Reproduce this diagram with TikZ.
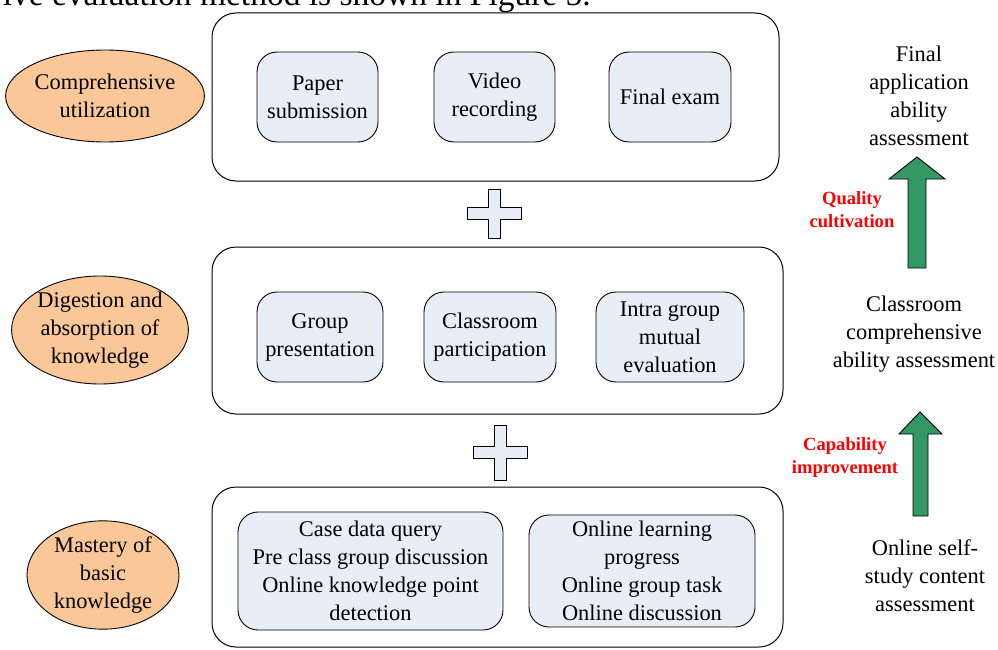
\documentclass[tikz,border=0pt]{standalone}
\usepackage{fontspec}
\setmainfont{Liberation Serif}
\usetikzlibrary{shapes.geometric,calc}
\definecolor{boxfill}{RGB}{232,238,248}
\definecolor{ellfill}{RGB}{250,200,152}
\definecolor{arrgreen}{RGB}{52,152,102}
\begin{document}
\begin{tikzpicture}[x=1pt,y=-1pt,
  txt/.style={font=\fontsize{22.4}{28}\selectfont, align=center, inner sep=0pt},
  bigbox/.style={draw, line width=1pt, rounded corners=24pt},
  inbox/.style={draw, line width=0.9pt, fill=boxfill, rounded corners=20pt, txt},
  ell/.style={draw, ellipse, line width=0.9pt, fill=ellfill, txt, inner sep=0pt},
  redlab/.style={font=\bfseries\fontsize{18.6}{23}\selectfont, text=red, align=center, inner sep=0pt},
  plusshape/.style={draw, line width=1pt, fill=boxfill},
  greenarr/.style={draw, line width=0.9pt, fill=arrgreen}
]
\useasboundingbox (0,0) rectangle (998,650);
\clip (0,0) rectangle (998,650);

% cut caption line at top
\node[font=\fontsize{33.5}{38}\selectfont, anchor=base east, inner sep=0pt] (cap) at (591,6) {ive evaluation method is shown in Figure 5.};

% big boxes
\node[bigbox, minimum width=567pt, minimum height=168pt] (top) at (495.5,97) {};
\node[bigbox, minimum width=571pt, minimum height=167pt] (mid) at (497.5,330.5) {};
\node[bigbox, minimum width=571pt, minimum height=160pt] (bot) at (497.5,567) {};

% top row
\node[inbox, minimum width=121pt, minimum height=90pt] (paper) at (317.5,97) {Paper\\submission};
\node[inbox, minimum width=121pt, minimum height=90pt] (video) at (494.5,97) {Video\\recording};
\node[inbox, minimum width=122pt, minimum height=90pt] (final) at (670,97) {Final exam};

% middle row
\node[inbox, minimum width=126pt, minimum height=90pt] (group) at (320,337) {Group\\presentation};
\node[inbox, minimum width=132pt, minimum height=90pt] (class) at (490,337) {Classroom\\participation};
\node[inbox, minimum width=148pt, minimum height=90pt] (intra) at (670,337) {Intra group\\mutual\\evaluation};

% bottom row
\node[inbox, minimum width=265pt, minimum height=118pt] (case) at (370.5,571) {Case data query\\Pre class group discussion\\Online knowledge point\\detection};
\node[inbox, minimum width=226pt, minimum height=112pt] (online) at (642,571) {Online learning\\progress\\Online group task\\Online discussion};

% ellipses
\node[ell, minimum width=190pt, minimum height=92pt] (e1) at (105,96) {Comprehensive\\utilization};
\node[ell, minimum width=166pt, minimum height=90pt] (e2) at (100,330) {Digestion and\\absorption of\\knowledge};
\node[ell, minimum width=152pt, minimum height=90pt] (e3) at (103,575) {Mastery of\\basic\\knowledge};

% plus signs
\coordinate (p1) at (494,213);
\draw[plusshape] ($(p1)+(-6,-24)$) -- ++(12,0) -- ++(0,18) -- ++(21,0) -- ++(0,12) -- ++(-21,0) -- ++(0,19) -- ++(-12,0) -- ++(0,-19) -- ++(-21,0) -- ++(0,-12) -- ++(21,0) -- cycle;
\coordinate (p2) at (500,453);
\draw[plusshape] ($(p2)+(-6,-28)$) -- ++(12,0) -- ++(0,21) -- ++(21,0) -- ++(0,12) -- ++(-21,0) -- ++(0,22) -- ++(-12,0) -- ++(0,-22) -- ++(-21,0) -- ++(0,-12) -- ++(21,0) -- cycle;

% right side texts
\node[txt] (ra) at (919,96) {Final\\application\\ability\\assessment};
\node[txt] (rb) at (914,334) {Classroom\\comprehensive\\ability assessment};
\node[txt] (rc) at (925,576) {Online self-\\study content\\assessment};

% green arrows
\draw[greenarr] (908,268) -- (908,179) -- (889,179) -- (917,157) -- (945,179) -- (926,179) -- (926,268) -- cycle;
\draw[greenarr] (913,516) -- (913,434) -- (899,434) -- (920,412) -- (942,434) -- (928,434) -- (928,516) -- cycle;

% red labels
\node[redlab] (q) at (852,210) {Quality\\cultivation};
\node[redlab] (c) at (845,458) {Capability\\improvement};
\end{tikzpicture}
\end{document}
